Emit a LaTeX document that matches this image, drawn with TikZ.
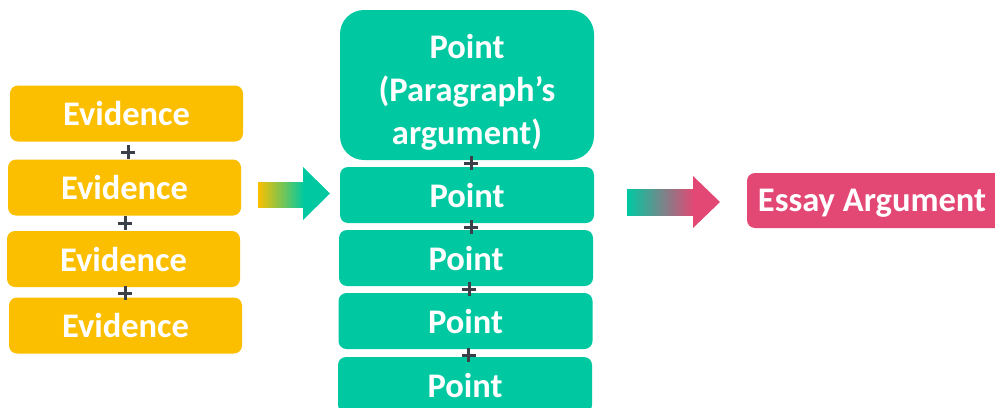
\documentclass[tikz,border=0pt]{standalone}
\usepackage{fontspec}
\setmainfont{Carlito}
\definecolor{evy}{HTML}{FBBF00}
\definecolor{ptg}{HTML}{00C9A2}
\definecolor{esp}{HTML}{E34874}
\definecolor{plusc}{HTML}{3A3F48}
\tikzset{
  boxtext/.style={text=white,font=\bfseries\fontsize{34.5}{43}\selectfont,inner sep=0pt},
  evbox/.style={boxtext,text depth=0pt,fill=evy,rounded corners=8pt,minimum width=233pt,minimum height=56pt},
  ptbox/.style={boxtext,text depth=0pt,fill=ptg,rounded corners=8pt,minimum width=254pt,minimum height=56pt},
  bigbox/.style={boxtext,fill=ptg,rounded corners=24pt,minimum width=254pt,minimum height=150pt,align=center},
  esbox/.style={boxtext,fill=esp,rounded corners=8pt,minimum width=256pt,minimum height=55pt},
  plusline/.style={draw=plusc,line width=3pt},
  plusmark/.style={inner sep=0pt,minimum size=0pt}
}
\begin{document}
\begin{tikzpicture}[x=1pt,y=-1pt]
\useasboundingbox (0,0) rectangle (995,407);
\begin{scope}
\clip (0,0) rectangle (995,407);
% Evidence column
\node[evbox] (e1) at (126.5,113.5) {Evidence};
\node[evbox] (e2) at (124.5,187.5) {Evidence};
\node[evbox] (e3) at (123.5,259) {Evidence};
\node[evbox] (e4) at (125.5,325.5) {Evidence};
% Points column
\node[bigbox] (p1) at (467,85) {};
\node[boxtext,align=center] (p1t) at (467,92) {Point\\(Paragraph’s\\argument)};
\node[ptbox] (p2) at (467,195) {Point};
\node[ptbox] (p3) at (466,258) {Point};
\node[ptbox] (p4) at (465.5,321) {Point};
\node[ptbox] (p5) at (465,385) {Point};
% Essay
\node[esbox] (es) at (875,200.5) {};
\node[boxtext] (est) at (872,203) {Essay Argument};
% plus marks
\foreach \n/\px/\py in {a/128/152,b/125/223,c/125/293,d/471/163,e/471/227,f/469/289,g/468.5/355}{
  \node[plusmark] (plus\n) at (\px,\py) {};
  \draw[plusline] ([xshift=-7pt]plus\n.center) -- ([xshift=7pt]plus\n.center)
                  ([yshift=-7pt]plus\n.center) -- ([yshift=7pt]plus\n.center);
}
% arrow 1 (yellow -> green)
\shade[left color=evy,right color=ptg] (258,182) rectangle (304,207);
\fill[ptg] (303,167) -- (330,193.5) -- (303,220) -- cycle;
% arrow 2 (green -> pink)
\shade[left color=ptg,right color=esp] (627,189) rectangle (694,215);
\fill[esp] (693,176) -- (720,202) -- (693,228) -- cycle;
\end{scope}
\end{tikzpicture}
\end{document}
